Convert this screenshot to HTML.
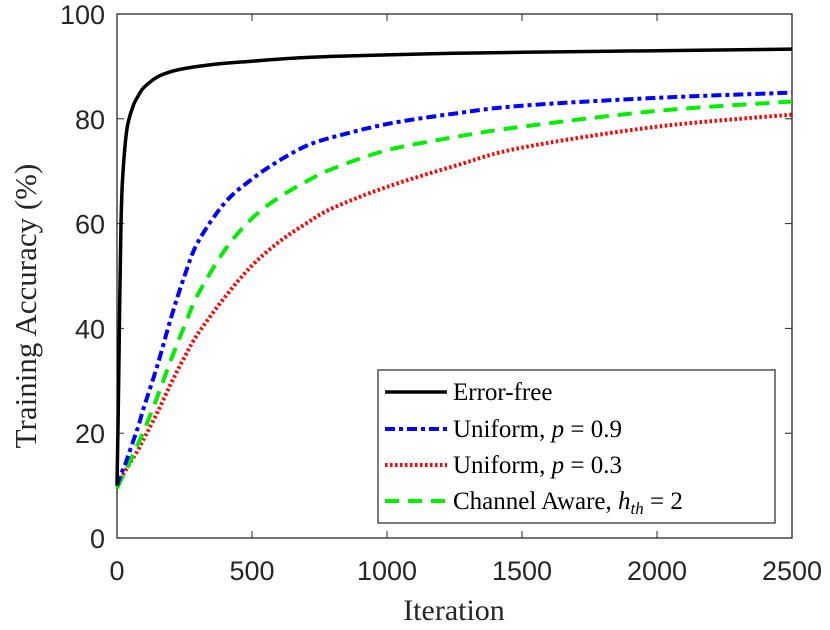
<!DOCTYPE html>
<html><head><meta charset="utf-8"><style>
body{margin:0;background:#fff}
svg{display:block}
.serif, .serif text, .serif tspan{font-family:"Liberation Serif", serif}
</style></head><body>
<svg id="chart" width="830" height="630" xmlns="http://www.w3.org/2000/svg" font-family="Liberation Sans, sans-serif">
<g id="plot"></g>
</svg>
<script>
const xTicks=[0,500,1000,1500,2000,2500];
const yTicks=[0,20,40,60,80,100];
const iterX=[0,5,10,15,20,30,40,60,80,100,150,200,250,300,400,500,600,700,800,1000,1250,1500,2000,2500];
const errorFree=[10,25,45,60,68,75,79,82.5,84.5,86,88,89,89.6,90,90.6,91,91.4,91.7,91.9,92.2,92.5,92.7,93,93.3];
const uniform09=[10,10.8,11.5,12.2,12.8,14,15.5,18.5,21.5,25,33,42,50,56.5,64,68.5,72,74.8,76.5,79,81,82.5,84,85];
const uniform03=[10.5,10.9,11.3,11.7,12,12.8,13.6,15.3,17,19,24,29.5,34.5,39,46,52,56.5,60,63,67,71,74.5,78.5,80.8];
const channelAware=[9.5,10,10.6,11.1,11.6,12.6,13.7,15.9,18.2,20.5,27,34,40.5,46.5,55,61,65,68,70.5,74,76.5,78.5,81.5,83.3];
const L=117,R=792,T=14,B=538;
const sx=v=>L+(v/2500)*(R-L);
const sy=v=>B-(v/100)*(B-T);
const NS="http://www.w3.org/2000/svg";
const g=document.getElementById('plot');
function mk(t,a){const e=document.createElementNS(NS,t);for(const k in a)e.setAttribute(k,a[k]);g.appendChild(e);return e;}
const frame=mk('rect',{x:L,y:T,width:R-L,height:B-T,fill:'#fff',stroke:'#262626','stroke-width':1.3});


xTicks.forEach(v=>{
 const x=sx(v);
 const t1=mk('line',{x1:x,x2:x,y1:B,y2:B-7,stroke:'#262626'});
 
 
 mk('line',{x1:x,x2:x,y1:T,y2:T+7,stroke:'#262626'});
 const tx=mk('text',{x:x,y:B+42,'text-anchor':'middle','font-size':27,fill:'#262626'});
 tx.textContent=v;
 
 
});
yTicks.forEach(v=>{
 const y=sy(v);
 const t1=mk('line',{x1:L,x2:L+7,y1:y,y2:y,stroke:'#262626'});
 
 
 mk('line',{x1:R,x2:R-7,y1:y,y2:y,stroke:'#262626'});
 const tx=mk('text',{x:L-12,y:y+10,'text-anchor':'end','font-size':27,fill:'#262626'});
 tx.textContent=v;
 
 
});
function series(vals,color,dash,name,w){
 const pts=vals.map((v,i)=>[sx(iterX[i]),sy(v)]);
 let d='M'+pts[0][0].toFixed(1)+','+pts[0][1].toFixed(1);
 for(let i=0;i<pts.length-1;i++){
  const p0=pts[Math.max(0,i-1)],p1=pts[i],p2=pts[i+1],p3=pts[Math.min(pts.length-1,i+2)];
  const c1=[p1[0]+(p2[0]-p0[0])/6,p1[1]+(p2[1]-p0[1])/6];
  const c2=[p2[0]-(p3[0]-p1[0])/6,p2[1]-(p3[1]-p1[1])/6];
  d+='C'+c1.map(n=>n.toFixed(1)).join(',')+' '+c2.map(n=>n.toFixed(1)).join(',')+' '+p2.map(n=>n.toFixed(1)).join(',');
 }
 const p=mk('path',{d:d,fill:'none',stroke:color,'stroke-width':w,'stroke-dasharray':dash,'stroke-linejoin':'round'});
 
 
}
series(uniform03,'#ff0000','2.5 2.5','series-uniform-p03',4);
series(channelAware,'#00ee00','14 9','series-channel-aware',4);
series(uniform09,'#0000ff','10 4 4 4','series-uniform-p09',4);
series(errorFree,'#000','none','series-error-free',3.5);
</script>
<svg class="serif" style="position:absolute;left:0;top:0" width="830" height="630" xmlns="http://www.w3.org/2000/svg">
<g>
<rect x="378" y="370" width="397" height="153" fill="#fff" stroke="#262626" stroke-width="1.2"/>
<g><line x1="385" x2="447" y1="392" y2="392" stroke="#000" stroke-width="3.5"/><text x="453" y="400" font-size="25">Error-free</text></g>
<g><line x1="385" x2="447" y1="429" y2="429" stroke="#0000ff" stroke-width="4" stroke-dasharray="10 4 4 4"/><text x="453" y="437" font-size="25">Uniform, <tspan font-style="italic">p</tspan> = 0.9</text></g>
<g><line x1="385" x2="447" y1="465" y2="465" stroke="#ff0000" stroke-width="4" stroke-dasharray="2.5 2.5"/><text x="453" y="473" font-size="25">Uniform, <tspan font-style="italic">p</tspan> = 0.3</text></g>
<g><line x1="385" x2="447" y1="501" y2="501" stroke="#00ee00" stroke-width="4" stroke-dasharray="14 9"/><text x="453" y="509" font-size="25">Channel Aware, <tspan font-style="italic">h</tspan><tspan font-style="italic" font-size="17" dy="5">th</tspan><tspan dy="-5"> = 2</tspan></text></g>
</g>
<text x="454" y="620" text-anchor="middle" font-size="30" fill="#262626">Iteration</text>
<text transform="translate(36,306) rotate(-90)" text-anchor="middle" font-size="31" fill="#262626">Training Accuracy (%)</text>
</svg>
</body></html>
